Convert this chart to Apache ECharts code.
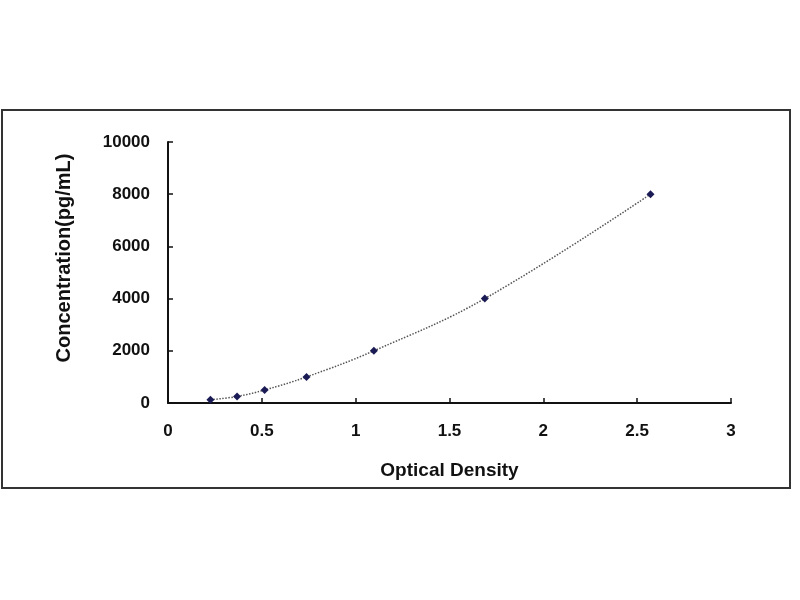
<!DOCTYPE html>
<html>
<head>
<meta charset="utf-8">
<script src="https://cdn.jsdelivr.net/npm/echarts@6/dist/echarts.min.js"></script>
<style>
html,body{margin:0;padding:0;background:#fff;}
#main{width:800px;height:600px;}
</style>
</head>
<body>
<div id="main"></div>
<script>
// Data
var opticalDensity = [0.226, 0.368, 0.515, 0.738, 1.097, 1.688, 2.571];
var concentration = [125, 250, 500, 1000, 2000, 4000, 8000];
var xTicks = [0, 0.5, 1, 1.5, 2, 2.5, 3];
var yTicks = [0, 2000, 4000, 6000, 8000, 10000];
var xTitle = 'Optical Density';
var yTitle = 'Concentration(pg/mL)';

var points = opticalDensity.map(function (x, i) { return [x, concentration[i]]; });

var chart = echarts.init(document.getElementById('main'));
var labelFont = { fontFamily: 'Liberation Sans, Arial, sans-serif', fontWeight: 'bold', color: '#111' };

chart.setOption({
  animation: false,
  backgroundColor: '#fff',
  graphic: [{
    type: 'rect',
    shape: { x: 2, y: 110, width: 788, height: 378 },
    style: { fill: 'none', stroke: '#333', lineWidth: 2 },
    z: -1
  }],
  grid: { left: 168, right: 69, top: 142, bottom: 197 },
  xAxis: {
    type: 'value',
    min: xTicks[0], max: xTicks[xTicks.length - 1], interval: 0.5,
    name: xTitle, nameLocation: 'middle', nameGap: 58,
    nameTextStyle: Object.assign({ fontSize: 19 }, labelFont),
    axisLine: { lineStyle: { color: '#111', width: 2 } },
    axisTick: { inside: true, length: 5, lineStyle: { color: '#111', width: 1.5 } },
    axisLabel: Object.assign({ fontSize: 17, margin: 20, formatter: function (v) { return String(v); } }, labelFont),
    splitLine: { show: false }
  },
  yAxis: {
    type: 'value',
    min: yTicks[0], max: yTicks[yTicks.length - 1], interval: 2000,
    name: yTitle, nameLocation: 'middle', nameGap: 94,
    nameTextStyle: Object.assign({ fontSize: 20, padding: [0, 0, 0, 29] }, labelFont),
    axisLine: { show: true, lineStyle: { color: '#111', width: 2 } },
    axisTick: { show: true, inside: true, length: 5, lineStyle: { color: '#111', width: 1.5 } },
    axisLabel: Object.assign({ fontSize: 17, margin: 18, formatter: function (v) { return String(v); } }, labelFont),
    splitLine: { show: false }
  },
  series: [{
    type: 'line',
    data: points,
    smooth: 0.4,
    symbol: 'diamond',
    symbolSize: 8,
    itemStyle: { color: '#1a1a55' },
    lineStyle: { color: '#555', width: 1.5, type: 'dotted' }
  }]
});
</script>
</body>
</html>
